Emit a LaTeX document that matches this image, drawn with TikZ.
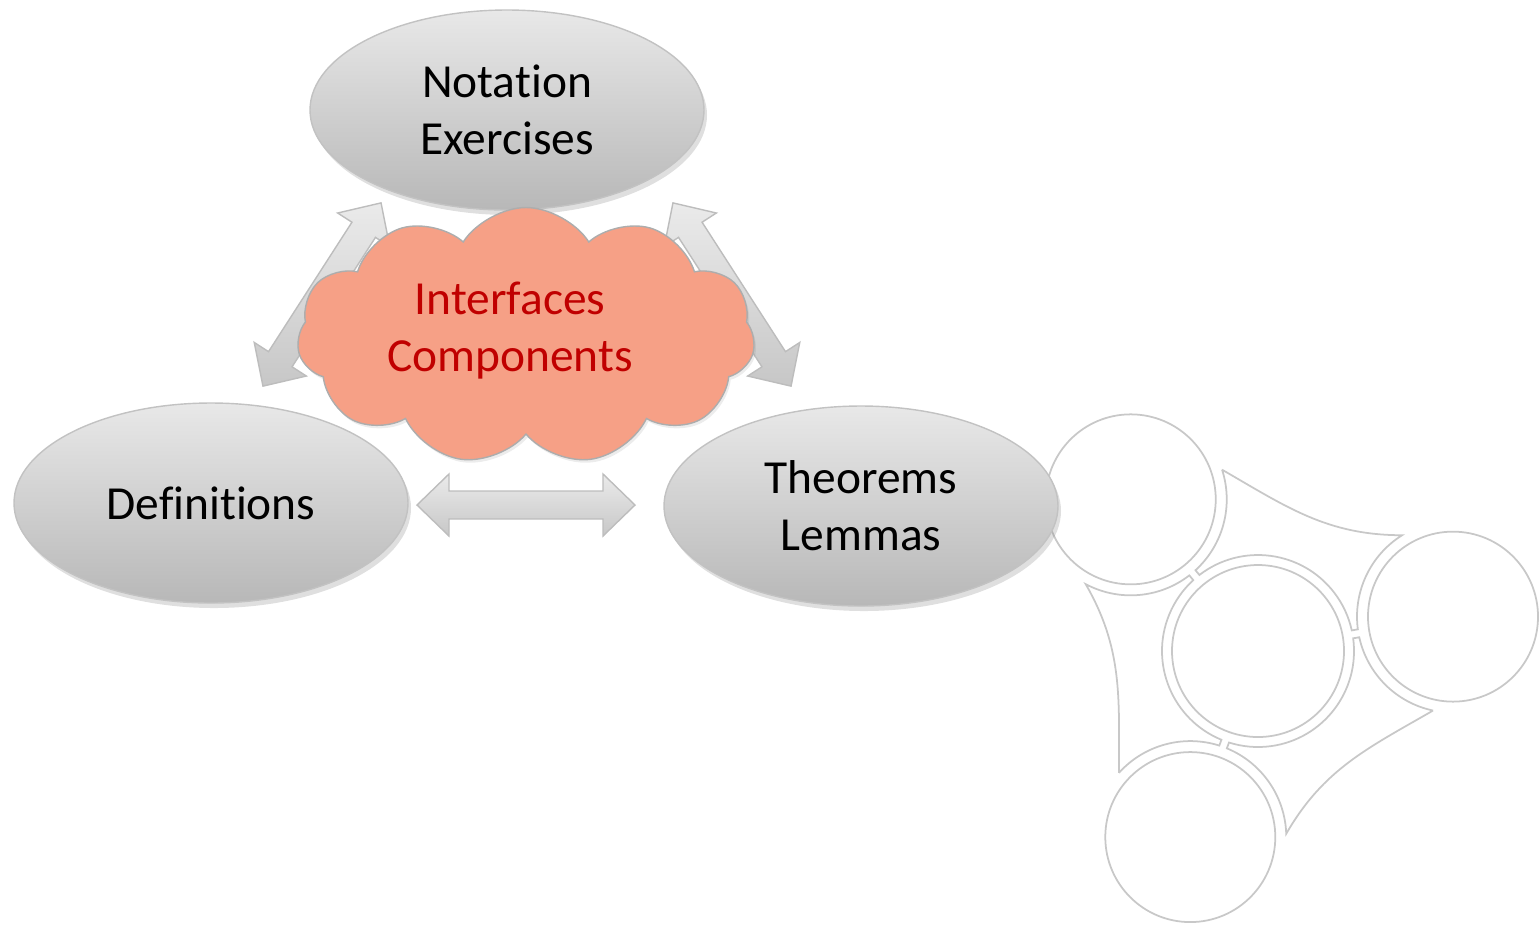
\documentclass[tikz,border=0pt]{standalone}
\usepackage{fontspec}
\setmainfont[Ligatures={NoCommon,NoContextual,NoRare}]{Carlito}
\usetikzlibrary{shapes.geometric,shapes.symbols,shadows,calc}
\definecolor{salmon}{RGB}{246,160,134}
\definecolor{cloudred}{RGB}{192,0,0}
\definecolor{ringgray}{RGB}{200,200,200}
\tikzset{
  dblarrow/.pic={
    \draw[draw=black!26, top color=black!8, bottom color=black!22, line join=miter]
      (-1.09,0) -- (-0.77,0.31) -- (-0.77,0.14) -- (0.77,0.14) -- (0.77,0.31) -- (1.09,0)
      -- (0.77,-0.31) -- (0.77,-0.14) -- (-0.77,-0.14) -- (-0.77,-0.31) -- cycle;
  }
}

\begin{document}
\begin{tikzpicture}[
    bubble/.style={ellipse, draw=black!24, top color=black!9, bottom color=black!28,
      minimum width=3.94cm, minimum height=2cm, inner sep=0pt, align=center,
      font=\fontsize{13.5}{16.2}\selectfont,
      drop shadow={shadow xshift=0.03cm, shadow yshift=-0.05cm, opacity=0.25}},
    ring/.style={draw=ringgray, line width=0.5pt}]
  \useasboundingbox (0,0) rectangle (15.39,-9.40);
  % gear outline on the right
  \coordinate (hub) at (12.58,-6.51);
  \draw[ring] (hub) circle (0.86);
  \foreach \a in {130,10,250} {
    \draw[ring] ($(hub)+(\a:1.98)$) circle (0.85);
    \draw[ring] ($(hub)+(\a:1.98)+(\a+248:0.96)$) arc[start angle=\a+248, end angle=\a+182.4, radius=0.96]
      -- ($(hub)+(\a-2.4:0.96)$) arc[start angle=\a-2.4, end angle=\a-117.6, radius=0.96]
      -- ($(hub)+(\a-120:1.98)+(\a+57.6:0.96)$) arc[start angle=\a+57.6, end angle=\a-8, radius=0.96]
      to[out=\a+50, in=\a-160] ($(hub)+(\a:1.98)+(\a+248:0.96)$);
  }
  % block arrows
  \pic (harrow) at (5.26,-5.05) {dblarrow};
  \pic[rotate=57.2] (larrow) at (3.22,-2.945) {dblarrow};
  \pic[rotate=-57.2] (rarrow) at (7.32,-2.945) {dblarrow};
  % ellipses
  \node[bubble] (notation) at (5.07,-1.10) {Notation\\Exercises};
  \node[bubble] (definitions) at (2.11,-5.03) {Definitions};
  \node[bubble] (theorems) at (8.61,-5.06) {Theorems\\Lemmas};
  % cloud
  \node[cloud, cloud puffs=11, cloud puff arc=115, aspect=1.8, draw=black!32, fill=salmon,
    minimum width=4.58cm, minimum height=2.57cm, inner sep=0pt,
    drop shadow={shadow xshift=0.02cm, shadow yshift=-0.03cm, opacity=0.15}] (interfaces) at (5.26,-3.36) {};
  \node[font=\fontsize{13.5}{16.2}\selectfont, text=cloudred, align=center] (interfacestext)
    at (5.10,-3.31) {Interfaces\\Components};
\end{tikzpicture}
\end{document}
